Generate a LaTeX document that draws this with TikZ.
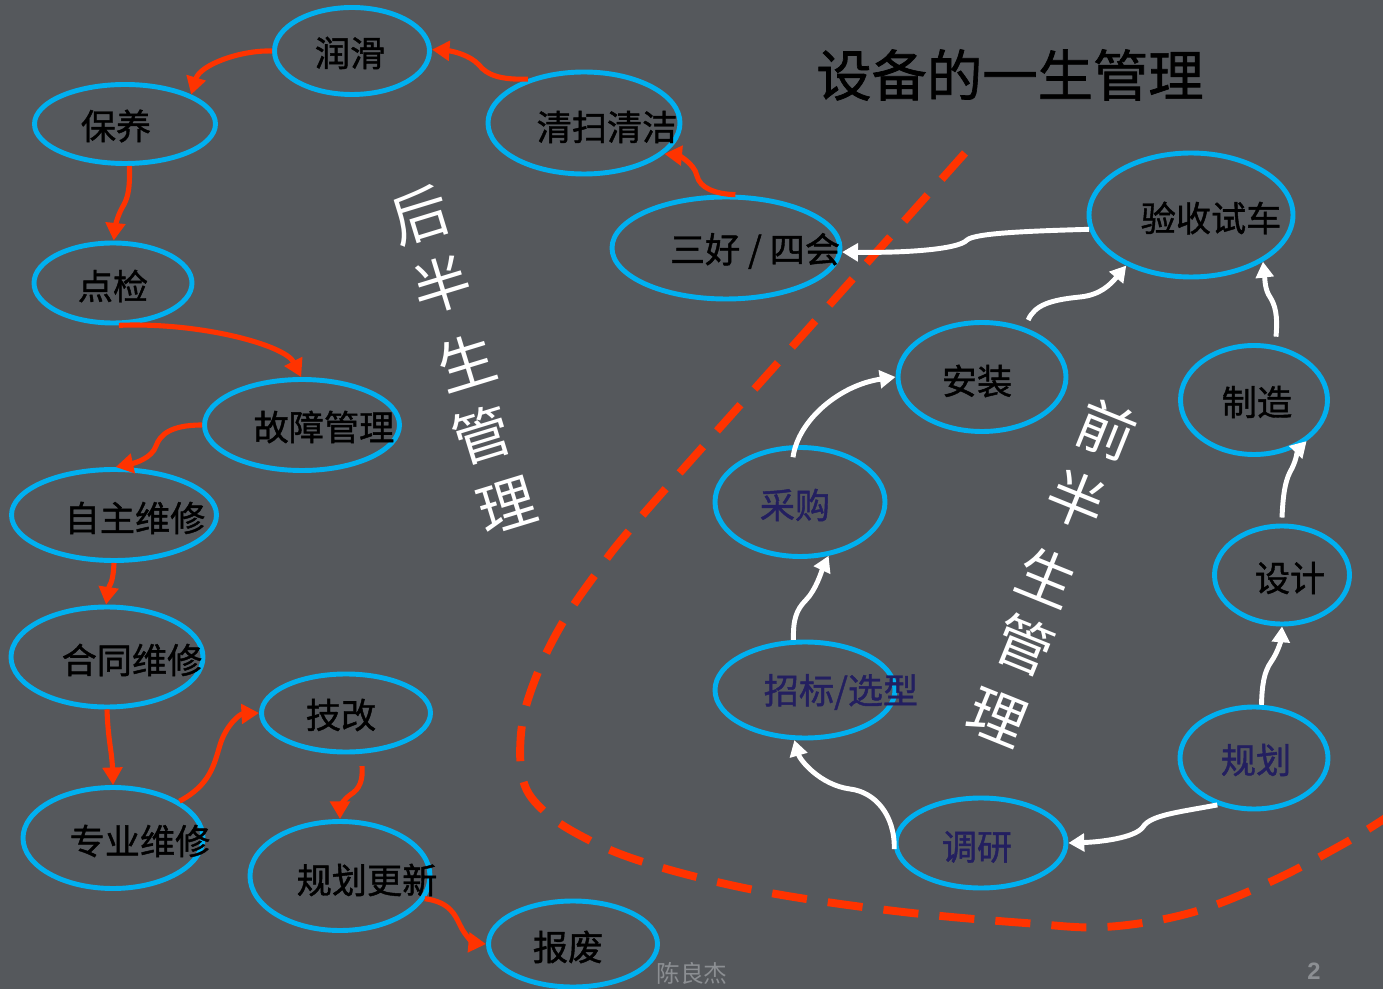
\documentclass[tikz,border=0pt]{standalone}
\usepackage{fontspec}
\usetikzlibrary{shapes.geometric,arrows.meta}
\newfontfamily\cjk[FakeBold=1.2]{Noto Sans CJK SC}
\newfontfamily\cjkthin{Noto Sans CJK SC}
\newfontfamily\lib{Liberation Sans}
\definecolor{bgc}{RGB}{85,88,92}
\definecolor{eblue}{RGB}{0,176,240}
\definecolor{ared}{RGB}{255,51,0}
\definecolor{navy}{RGB}{35,31,96}
\definecolor{foot}{RGB}{140,143,147}
\begin{document}
\begin{tikzpicture}[x=0.02cm,y=-0.02cm,
  ell/.style={ellipse, draw=eblue, line width=2.8pt, inner sep=0pt},
  sz/.style 2 args={minimum width=#1*0.02cm, minimum height=#2*0.02cm},
  lbl/.style={font=\cjk\fontsize{20}{24}\selectfont, text=black, inner sep=0pt},
  nlbl/.style={lbl, text=navy},
  big/.style={font=\cjkthin\fontsize{33}{36}\selectfont, text=white, inner sep=0pt},
  redarr/.style={draw=ared, line width=2.9pt, -{Triangle[length=10pt,width=11pt]}},
  whtarr/.style={draw=white, line width=2.8pt, -{Triangle[length=9pt,width=10pt]}},
  divider/.style={draw=ared, line width=4.5pt, dash pattern=on 20pt off 12pt}
]
\fill[bgc] (0,0) rectangle (1383,989);
\useasboundingbox (0,0) rectangle (1383,989);

% ellipses
\node[ell, sz={155}{87}] (runhua) at (352,51) {};
\node[ell, sz={181}{79}] (baoyang) at (125,124) {};
\node[ell, sz={192}{102}] (qingsao) at (584,123) {};
\node[ell, sz={228}{102}] (sanhao) at (726,248) {};
\node[ell, sz={158}{80}] (dianjian) at (113,283) {};
\node[ell, sz={195}{91}] (guzhang) at (302,425) {};
\node[ell, sz={205}{91}] (zizhu) at (114,515) {};
\node[ell, sz={192}{100}] (hetong) at (107,657) {};
\node[ell, sz={180}{101}] (zhuanye) at (113,838) {};
\node[ell, sz={169}{78}] (jigai) at (346,713) {};
\node[ell, sz={180}{109}] (gengxin) at (340,876) {};
\node[ell, sz={169}{86}] (baofei) at (573,944) {};
\node[ell, sz={204}{124}] (yanshou) at (1191,215) {};
\node[ell, sz={168}{109}] (anzhuang) at (982,377) {};
\node[ell, sz={147}{109}] (zhizao) at (1254,400) {};
\node[ell, sz={170}{109}] (caigou) at (800,502) {};
\node[ell, sz={135}{98}] (sheji) at (1282,575) {};
\node[ell, sz={180}{96}] (zhaobiao) at (805,690) {};
\node[ell, sz={148}{102}] (guihua) at (1254,758) {};
\node[ell, sz={170}{90}] (diaoyan) at (981,843) {};

% dashed divider
\draw[divider] plot[smooth, tension=0.6] coordinates {(965,153) (800,338) (640,518) (595,575) (563,622) (538,672) (522,725) (523,780) (545,812) (585,838) (637,860) (717,882) (800,898) (912,913) (1025,923) (1105,927) (1190,913) (1270,882) (1345,843) (1390,815)};

% red connectors
\draw[redarr] (qingsao.142) .. controls (500,80) and (487,75) .. (479,65) .. controls (470,55) and (452,51) .. (runhua.1);
\draw[redarr] (runhua.180) .. controls (240,50) and (200,65) .. (baoyang.24);
\draw[redarr] (baoyang.-84) .. controls (130,190) and (128,198) .. (122,208) .. controls (117,217) and (115,228) .. (dianjian.89);
\draw[redarr] (dianjian.-82) .. controls (200,322) and (285,345) .. (guzhang.91);
\draw[redarr] (guzhang.180) .. controls (170,425) and (160,435) .. (156,446) .. controls (152,458) and (135,463) .. (zizhu.88);
\draw[redarr] (zizhu.-90) .. controls (113,585) and (109,585) .. (hetong.91);
\draw[redarr] (hetong.-90) .. controls (108,740) and (112,752) .. (zhuanye.90);
\draw[redarr] (zhuanye.29) .. controls (210,785) and (214,765) .. (220,745) .. controls (226,725) and (240,714) .. (jigai.180);
\draw[redarr] ([shift={(5,12)}]jigai.-75) .. controls (363,780) and (360,789) .. (350,795) .. controls (342,801) and (340,808) .. (gengxin.90);
\draw[redarr] (gengxin.-15) .. controls (450,902) and (455,915) .. (460,925) .. controls (466,938) and (475,943) .. (baofei.180);
\draw[redarr] (sanhao.80) .. controls (715,194) and (700,188) .. (697,176) .. controls (694,162) and (676,155) .. (qingsao.-21);

% white connectors
\draw[whtarr] (yanshou.188) .. controls (1030,231) and (975,233) .. (967,240) .. controls (958,250) and (900,253) .. (sanhao.-2);
\draw[whtarr] ([shift={(2,-8)}]anzhuang.48) .. controls (1035,305) and (1050,300) .. (1080,297) .. controls (1100,295) and (1110,285) .. (yanshou.218);
\draw[whtarr] ([shift={(4,-8)}]zhizao.72) .. controls (1278,315) and (1275,305) .. (1270,297) .. controls (1265,290) and (1265,280) .. (yanshou.-33);
\draw[whtarr] ([shift={(0,-6)}]sheji.90) .. controls (1283,495) and (1285,482) .. (1290,472) .. controls (1296,462) and (1298,450) .. (zhizao.-38);
\draw[whtarr] (guihua.82) .. controls (1262,685) and (1264,672) .. (1271,662) .. controls (1278,652) and (1281,640) .. (sheji.-90);
\draw[whtarr] (guihua.232) .. controls (1180,812) and (1150,815) .. (1143,827) .. controls (1135,838) and (1100,842) .. (diaoyan.0);
\draw[whtarr] (diaoyan.184) .. controls (895,815) and (875,792) .. (850,789) .. controls (820,785) and (800,760) .. (zhaobiao.258);
\draw[whtarr] (zhaobiao.103) .. controls (793,620) and (796,610) .. (806,600) .. controls (816,590) and (822,570) .. (caigou.-62);
\draw[whtarr] ([shift={(0,12)}]caigou.97) .. controls (798,420) and (840,385) .. (anzhuang.180);

% labels
\node[lbl] (t-runhua) at (350,53) {润滑};
\node[lbl] (t-baoyang) at (116,126) {保养};
\node[lbl] (t-qingsao) at (607,127) {清扫清洁};
\node[lbl] (t-sanhao) at (755,251) {三好 / 四会};
\node[lbl] (t-dianjian) at (113,286) {点检};
\node[lbl] (t-guzhang) at (324,427) {故障管理};
\node[lbl] (t-zizhu) at (135,518) {自主维修};
\node[lbl] (t-hetong) at (132,660) {合同维修};
\node[lbl] (t-zhuanye) at (140,841) {专业维修};
\node[lbl] (t-jigai) at (341,715) {技改};
\node[lbl] (t-gengxin) at (367,880) {规划更新};
\node[lbl] (t-baofei) at (568,947) {报废};
\node[lbl] (t-yanshou) at (1211,218) {验收试车};
\node[lbl] (t-anzhuang) at (977,381) {安装};
\node[lbl] (t-zhizao) at (1257,402) {制造};
\node[nlbl] (t-caigou) at (795,505) {采购};
\node[lbl] (t-sheji) at (1290,578) {设计};
\node[nlbl] (t-zhaobiao) at (841,692) {招标/选型};
\node[nlbl] (t-guihua) at (1256,760) {规划};
\node[nlbl] (t-diaoyan) at (977,847) {调研};

% title
\node[font=\cjk\fontsize{31.5}{36}\selectfont, text=black, inner sep=0pt] (title) at (1010,75) {设备的一生管理};

% rotated white texts
\node[big, rotate=17] (h1) at (420,215) {后};
\node[big, rotate=17] (h2) at (442,285) {半};
\node[big, rotate=17] (h3) at (467,362) {生};
\node[big, rotate=17] (h4) at (482,435) {管};
\node[big, rotate=17] (h5) at (507,505) {理};
\node[big, rotate=-22] (q1) at (1107,430) {前};
\node[big, rotate=-22] (q2) at (1077,500) {半};
\node[big, rotate=-22] (q3) at (1047,577) {生};
\node[big, rotate=-22] (q4) at (1025,645) {管};
\node[big, rotate=-22] (q5) at (997,717) {理};

% footer
\node[font=\cjkthin\fontsize{13.5}{16}\selectfont, text=foot, inner sep=0pt] (author) at (692,973) {陈良杰};
\node[font=\lib\bfseries\fontsize{13.5}{16}\selectfont, text=foot, inner sep=0pt] (pageno) at (1314,971) {2};
\end{tikzpicture}
\end{document}
